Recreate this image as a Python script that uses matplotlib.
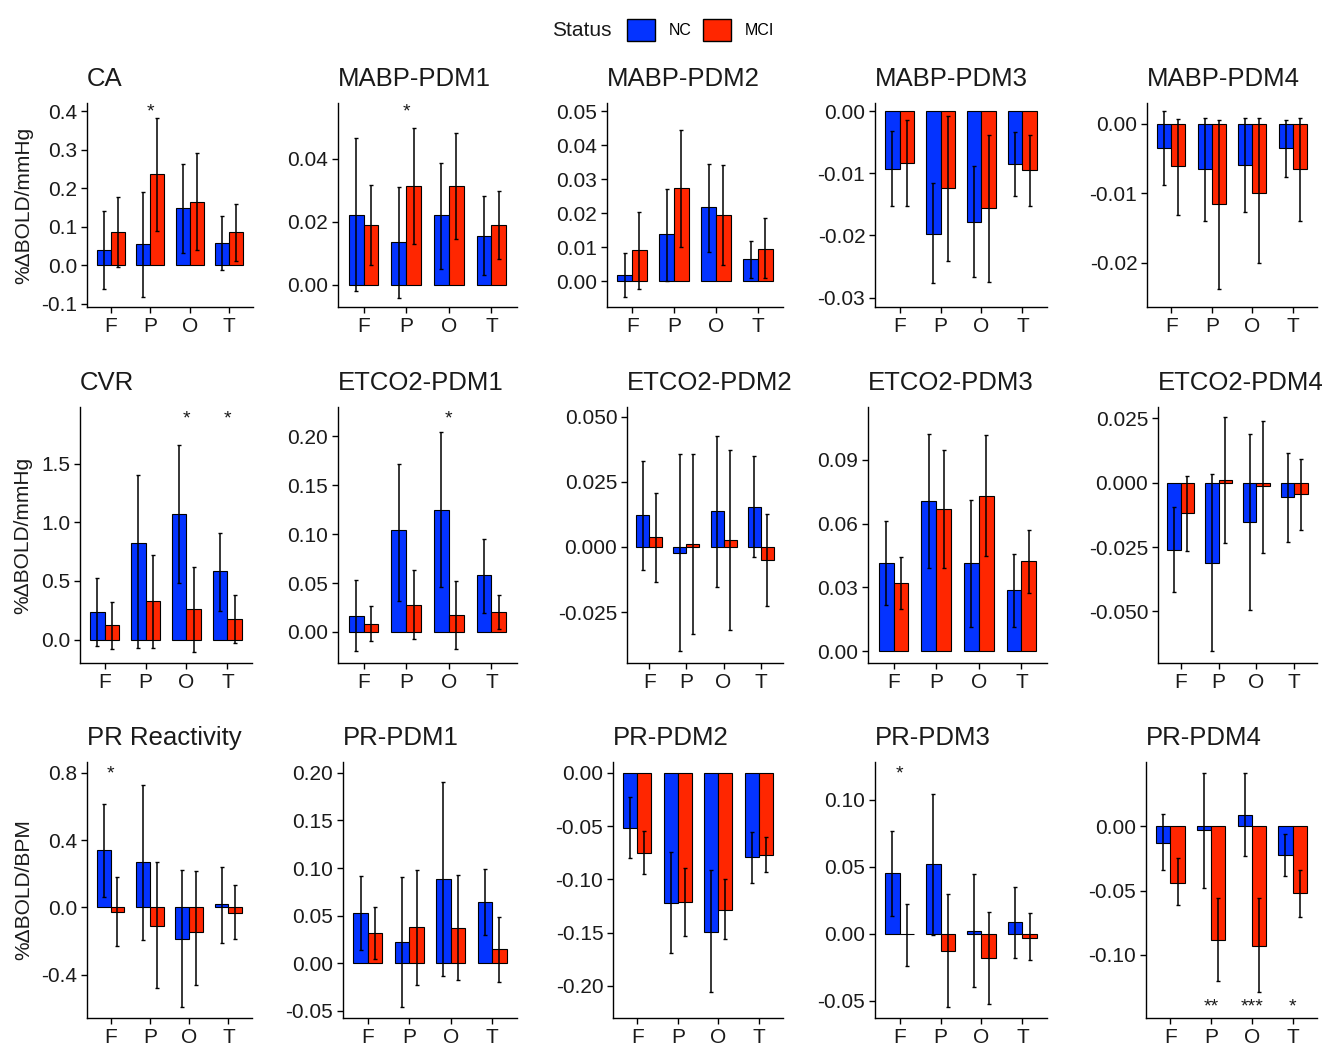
import matplotlib

matplotlib.use("Agg")
import matplotlib.pyplot as plt
import matplotlib.transforms as mtransforms
from matplotlib.patches import Patch
import numpy as np

plt.rcParams["font.family"] = ["Liberation Sans", "DejaVu Sans"]

REGIONS = ["F", "P", "O", "T"]
GROUPS = ["NC", "MCI"]

# each metric: [NC values, MCI values] per region
CA_MEAN = [[0.039, 0.055, 0.148, 0.057], [0.085, 0.237, 0.165, 0.085]]
CA_LOW = [[-0.061, -0.084, 0.032, -0.013], [-0.006, 0.090, 0.039, 0.011]]
CA_HIGH = [[0.141, 0.191, 0.263, 0.128], [0.177, 0.383, 0.293, 0.159]]
CA_STARS = ["", "*", "", ""]

MABP1_MEAN = [[0.0223, 0.0136, 0.0221, 0.0155], [0.0189, 0.0314, 0.0314, 0.0189]]
MABP1_LOW = [[-0.0020, -0.0041, 0.0051, 0.0030], [0.0062, 0.0128, 0.0145, 0.0081]]
MABP1_HIGH = [[0.0468, 0.0312, 0.0388, 0.0283], [0.0317, 0.0500, 0.0484, 0.0299]]
MABP1_STARS = ["", "*", "", ""]

MABP2_MEAN = [[0.0018, 0.0138, 0.0219, 0.0064], [0.0092, 0.0276, 0.0195, 0.0096]]
MABP2_LOW = [[-0.0048, 0.0000, 0.0087, 0.0008], [-0.0022, 0.0101, 0.0047, 0.0008]]
MABP2_HIGH = [[0.0082, 0.0272, 0.0344, 0.0119], [0.0205, 0.0446, 0.0343, 0.0187]]

MABP3_MEAN = [[-0.0093, -0.0197, -0.0179, -0.0085], [-0.0083, -0.0124, -0.0156, -0.0095]]
MABP3_LOW = [[-0.0152, -0.0276, -0.0267, -0.0136], [-0.0152, -0.0241, -0.0274, -0.0152]]
MABP3_HIGH = [[-0.0032, -0.0115, -0.0088, -0.0034], [-0.0015, -0.0008, -0.0039, -0.0039]]

MABP4_MEAN = [[-0.0035, -0.0065, -0.0060, -0.0035], [-0.0061, -0.0116, -0.0100, -0.0065]]
MABP4_LOW = [[-0.0088, -0.0140, -0.0127, -0.0076], [-0.0131, -0.0238, -0.0200, -0.0140]]
MABP4_HIGH = [[0.0018, 0.0009, 0.0008, 0.0005], [0.0007, 0.0005, 0.0008, 0.0008]]

CVR_MEAN = [[0.236, 0.827, 1.074, 0.582], [0.122, 0.330, 0.264, 0.179]]
CVR_LOW = [[-0.054, -0.068, 0.483, 0.244], [-0.082, -0.068, -0.105, -0.028]]
CVR_HIGH = [[0.526, 1.401, 1.662, 0.909], [0.321, 0.724, 0.619, 0.384]]
CVR_STARS = ["", "", "*", "*"]

ETCO2_1_MEAN = [[0.0164, 0.1039, 0.1250, 0.0579], [0.0085, 0.0279, 0.0170, 0.0204]]
ETCO2_1_LOW = [[-0.0194, 0.0317, 0.0460, 0.0198], [-0.0095, -0.0068, -0.0170, 0.0034]]
ETCO2_1_HIGH = [[0.0528, 0.1721, 0.2044, 0.0954], [0.0266, 0.0630, 0.0521, 0.0375]]
ETCO2_1_STARS = ["", "", "*", ""]

ETCO2_2_MEAN = [[0.0122, -0.0022, 0.0137, 0.0154], [0.0037, 0.0013, 0.0026, -0.0049]]
ETCO2_2_LOW = [[-0.0087, -0.0401, -0.0154, -0.0038], [-0.0135, -0.0336, -0.0321, -0.0228]]
ETCO2_2_HIGH = [[0.0331, 0.0359, 0.0426, 0.0349], [0.0208, 0.0359, 0.0372, 0.0128]]

ETCO2_3_MEAN = [[0.0416, 0.0707, 0.0414, 0.0285], [0.0320, 0.0670, 0.0731, 0.0423]]
ETCO2_3_LOW = [[0.0218, 0.0392, 0.0113, 0.0113], [0.0196, 0.0392, 0.0445, 0.0273]]
ETCO2_3_HIGH = [[0.0612, 0.1022, 0.0712, 0.0458], [0.0442, 0.0947, 0.1015, 0.0571]]

ETCO2_4_MEAN = [[-0.0260, -0.0310, -0.0153, -0.0056], [-0.0118, 0.0009, -0.0014, -0.0045]]
ETCO2_4_LOW = [[-0.0424, -0.0654, -0.0495, -0.0230], [-0.0265, -0.0234, -0.0273, -0.0185]]
ETCO2_4_HIGH = [[-0.0094, 0.0035, 0.0190, 0.0115], [0.0028, 0.0255, 0.0238, 0.0093]]

PRR_MEAN = [[0.340, 0.271, -0.188, 0.018], [-0.026, -0.109, -0.148, -0.032]]
PRR_LOW = [[0.059, -0.194, -0.593, -0.210], [-0.229, -0.480, -0.461, -0.188]]
PRR_HIGH = [[0.617, 0.730, 0.221, 0.241], [0.182, 0.271, 0.216, 0.132]]
PRR_STARS = ["*", "", "", ""]

PR1_MEAN = [[0.0531, 0.0217, 0.0885, 0.0647], [0.0315, 0.0378, 0.0374, 0.0147]]
PR1_LOW = [[0.0140, -0.0462, -0.0140, 0.0297], [0.0042, -0.0227, -0.0175, -0.0203]]
PR1_HIGH = [[0.0920, 0.0902, 0.1906, 0.0986], [0.0587, 0.0979, 0.0927, 0.0483]]

PR2_MEAN = [[-0.0516, -0.1219, -0.1491, -0.0794], [-0.0750, -0.1209, -0.1288, -0.0772]]
PR2_LOW = [[-0.0803, -0.1694, -0.2063, -0.1031], [-0.0950, -0.1528, -0.1563, -0.0928]]
PR2_HIGH = [[-0.0225, -0.0741, -0.0913, -0.0559], [-0.0547, -0.0897, -0.1000, -0.0606]]

PR3_MEAN = [[0.0456, 0.0518, 0.0025, 0.0087], [-0.0003, -0.0124, -0.0176, -0.0027]]
PR3_LOW = [[0.0134, -0.0007, -0.0399, -0.0181], [-0.0236, -0.0546, -0.0521, -0.0198]]
PR3_HIGH = [[0.0769, 0.1041, 0.0444, 0.0352], [0.0223, 0.0298, 0.0166, 0.0154]]
PR3_STARS = ["*", "", "", ""]

PR4_MEAN = [[-0.0127, -0.0031, 0.0090, -0.0225], [-0.0439, -0.0884, -0.0928, -0.0522]]
PR4_LOW = [[-0.0341, -0.0478, -0.0233, -0.0388], [-0.0612, -0.1207, -0.1292, -0.0703]]
PR4_HIGH = [[0.0093, 0.0413, 0.0413, -0.0057], [-0.0251, -0.0561, -0.0561, -0.0341]]
PR4_STARS = ["", "**", "***", "*"]

NO_STARS = ["", "", "", ""]

# title, mean, low, high, stars, y ticks, decimals, y limits
PANELS = [
    ("CA", CA_MEAN, CA_LOW, CA_HIGH, CA_STARS,
     [-0.1, 0.0, 0.1, 0.2, 0.3, 0.4], 1, (-0.109, 0.422)),
    ("MABP-PDM1", MABP1_MEAN, MABP1_LOW, MABP1_HIGH, MABP1_STARS,
     [0.0, 0.02, 0.04], 2, (-0.0071, 0.0578)),
    ("MABP-PDM2", MABP2_MEAN, MABP2_LOW, MABP2_HIGH, NO_STARS,
     [0.0, 0.01, 0.02, 0.03, 0.04, 0.05], 2, (-0.0076, 0.0525)),
    ("MABP-PDM3", MABP3_MEAN, MABP3_LOW, MABP3_HIGH, NO_STARS,
     [-0.03, -0.02, -0.01, 0.0], 2, (-0.0315, 0.0013)),
    ("MABP-PDM4", MABP4_MEAN, MABP4_LOW, MABP4_HIGH, NO_STARS,
     [-0.02, -0.01, 0.0], 2, (-0.0264, 0.0030)),
    ("CVR", CVR_MEAN, CVR_LOW, CVR_HIGH, CVR_STARS,
     [0.0, 0.5, 1.0, 1.5], 1, (-0.199, 1.983)),
    ("ETCO2-PDM1", ETCO2_1_MEAN, ETCO2_1_LOW, ETCO2_1_HIGH, ETCO2_1_STARS,
     [0.0, 0.05, 0.10, 0.15, 0.20], 2, (-0.0317, 0.230)),
    ("ETCO2-PDM2", ETCO2_2_MEAN, ETCO2_2_LOW, ETCO2_2_HIGH, NO_STARS,
     [-0.025, 0.0, 0.025, 0.05], 3, (-0.0446, 0.0538)),
    ("ETCO2-PDM3", ETCO2_3_MEAN, ETCO2_3_LOW, ETCO2_3_HIGH, NO_STARS,
     [0.0, 0.03, 0.06, 0.09], 2, (-0.0056, 0.1148)),
    ("ETCO2-PDM4", ETCO2_4_MEAN, ETCO2_4_LOW, ETCO2_4_HIGH, NO_STARS,
     [-0.05, -0.025, 0.0, 0.025], 3, (-0.070, 0.0294)),
    ("PR Reactivity", PRR_MEAN, PRR_LOW, PRR_HIGH, PRR_STARS,
     [-0.4, 0.0, 0.4, 0.8], 1, (-0.658, 0.864)),
    ("PR-PDM1", PR1_MEAN, PR1_LOW, PR1_HIGH, NO_STARS,
     [-0.05, 0.0, 0.05, 0.10, 0.15, 0.20], 2, (-0.0577, 0.2115)),
    ("PR-PDM2", PR2_MEAN, PR2_LOW, PR2_HIGH, NO_STARS,
     [-0.20, -0.15, -0.10, -0.05, 0.0], 2, (-0.2303, 0.0103)),
    ("PR-PDM3", PR3_MEAN, PR3_LOW, PR3_HIGH, PR3_STARS,
     [-0.05, 0.0, 0.05, 0.10], 2, (-0.0627, 0.1282)),
    ("PR-PDM4", PR4_MEAN, PR4_LOW, PR4_HIGH, PR4_STARS,
     [-0.10, -0.05, 0.0], 2, (-0.1491, 0.0499)),
]

ROW_YLABELS = ["%ΔBOLD/mmHg", "%ΔBOLD/mmHg", "%ΔBOLD/BPM"]
STARS_AT_BOTTOM = {"PR-PDM4"}

# layout in pixels of the 1328x1046 canvas
W, H = 1328, 1046
ROW_TOP_BOTTOM = [(103, 307), (407, 663), (762, 1018)]
COL_LEFT_RIGHT = [
    [(87, 253), (338, 517), (607, 783), (875, 1047), (1147, 1317)],
    [(80, 252), (338, 517), (627, 783), (868, 1047), (1158, 1317)],
    [(87, 252), (343, 517), (613, 783), (875, 1047), (1146, 1317)],
]
COLORS = ["#0433FF", "#FF2600"]
BAR_W = 0.35


def draw_panel(ax, panel, ylabel):
    title, mean, low, high, stars, yticks, dec, ylim = panel
    x = np.arange(len(REGIONS))
    for g in range(2):
        xs = x + (g - 0.5) * BAR_W
        m = np.array(mean[g])
        lo = np.array(low[g])
        hi = np.array(high[g])
        ax.bar(xs, m, width=BAR_W, color=COLORS[g], edgecolor="black",
               linewidth=0.8, zorder=2)
        ax.errorbar(xs, m, yerr=[m - lo, hi - m], fmt="none", ecolor="black",
                    elinewidth=1.1, capsize=1.2, capthick=1.0, zorder=3)

    trans = mtransforms.blended_transform_factory(ax.transData, ax.transAxes)
    star_y = 0.045 if title in STARS_AT_BOTTOM else 0.955
    for i, s in enumerate(stars):
        if s:
            ax.text(x[i], star_y, s, transform=trans, ha="center", va="center",
                    fontsize=14, color="#1a1a1a")

    ax.set_xlim(-0.6, 3.6)
    ax.set_ylim(*ylim)
    ax.set_xticks(x)
    ax.set_xticklabels(REGIONS)
    ax.set_yticks(yticks)
    ax.set_yticklabels([f"{v + 0.0:.{dec}f}" for v in yticks])
    ax.spines["top"].set_visible(False)
    ax.spines["right"].set_visible(False)
    ax.spines["left"].set_linewidth(1.0)
    ax.spines["bottom"].set_linewidth(1.0)
    ax.tick_params(axis="both", direction="out", length=4, width=1.0,
                   labelsize=15, colors="black", labelcolor="#1a1a1a", pad=3)
    ax.set_title(title, loc="left", fontsize=18.5, pad=12, color="#1a1a1a")
    if ylabel:
        ax.set_ylabel(ylabel, fontsize=15, color="#1a1a1a", labelpad=6)


def main():
    fig = plt.figure(figsize=(W / 100, H / 100), dpi=100)
    for r in range(3):
        top, bottom = ROW_TOP_BOTTOM[r]
        for c in range(5):
            left, right = COL_LEFT_RIGHT[r][c]
            ax = fig.add_axes([left / W, 1 - bottom / H,
                               (right - left) / W, (bottom - top) / H])
            draw_panel(ax, PANELS[r * 5 + c], ROW_YLABELS[r] if c == 0 else None)

    fig.text(552 / W, 1 - 30 / H, "Status", fontsize=15, color="#1a1a1a",
             ha="left", va="center")
    handles = [Patch(facecolor=COLORS[g], edgecolor="black", linewidth=1.0)
               for g in range(2)]
    fig.legend(handles, GROUPS, ncol=2, loc="center left",
               bbox_to_anchor=(627 / W, 1 - 30 / H), frameon=False,
               fontsize=11.5, handlelength=1.75, handleheight=1.75,
               handletextpad=0.85, columnspacing=0.75, borderpad=0,
               borderaxespad=0)

    fig.savefig("out.png", dpi=100)
    plt.close(fig)


if __name__ == "__main__":
    main()
